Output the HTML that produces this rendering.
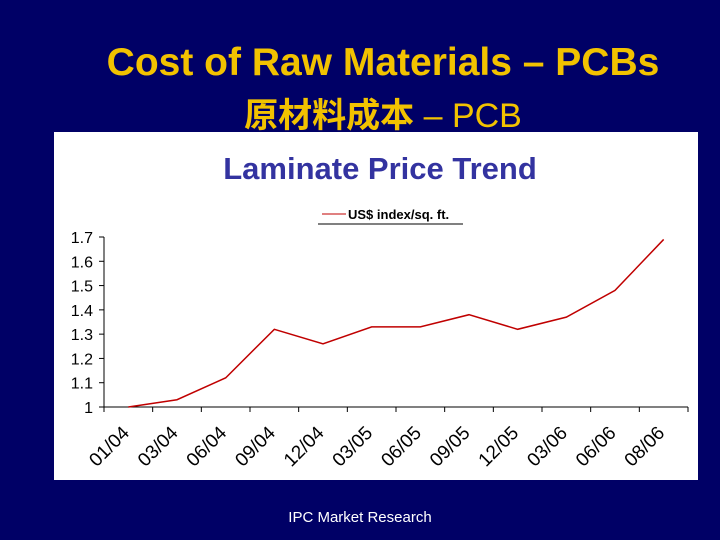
<!DOCTYPE html>
<html><head><meta charset="utf-8"><style>
body{margin:0;width:720px;height:540px;background:#000066;overflow:hidden;font-family:"Liberation Sans","Noto Sans CJK SC",sans-serif;position:relative}
.t{position:absolute;left:0;width:720px;text-align:center;color:#F2C200}
</style></head><body>
<div class="t" style="top:41px;font-size:39px;left:23px;font-weight:bold">Cost of Raw Materials – PCBs</div>
<div class="t" style="top:88px;font-size:34px;left:23px"><b>原材料成本</b> – PCB</div>
<svg width="720" height="540" style="position:absolute;left:0;top:0" id="c">
<rect x="54" y="132" width="644" height="348" fill="#fff"/>
<text x="380" y="179" text-anchor="middle" font-size="31" font-weight="bold" fill="#3333a0" font-family="Liberation Sans,sans-serif">Laminate Price Trend</text>
<g>
<line x1="322" y1="214" x2="346" y2="214" stroke="#c00000" stroke-width="1"/>
<text x="348" y="219" font-size="13" font-weight="bold" font-family="Liberation Sans,sans-serif">US$ index/sq. ft.</text>
<line x1="318" y1="224" x2="463" y2="224" stroke="#000" stroke-width="1"/>
</g>
<g id="ax"></g>
</svg>
<div style="position:absolute;top:509px;left:0;width:720px;text-align:center;color:#fff;font-size:15px">IPC Market Research</div>
<script>
const categories=["01/04","03/04","06/04","09/04","12/04","03/05","06/05","09/05","12/05","03/06","06/06","08/06"];
const values=[1.00,1.03,1.12,1.32,1.26,1.33,1.33,1.38,1.32,1.37,1.48,1.69];
const yTicks=[1,1.1,1.2,1.3,1.4,1.5,1.6,1.7];
const yTickLabels=["1","1.1","1.2","1.3","1.4","1.5","1.6","1.7"];
const NS="http://www.w3.org/2000/svg",g=document.getElementById('ax');
const x0=104,x1=688,y0=407,yTop=237;
const bw=(x1-x0)/categories.length;
const X=i=>x0+bw*(i+0.5), Y=v=>y0-(v-1)/0.7*(y0-yTop);
function mk(t,a){const e=document.createElementNS(NS,t);for(const k in a)e.setAttribute(k,a[k]);g.appendChild(e);return e;}
let e=mk('line',{x1:x0,y1:yTop,x2:x0,y2:y0,stroke:'#000'});


e=mk('line',{x1:x0,y1:y0,x2:x1,y2:y0,stroke:'#000'});


yTicks.forEach((v,i)=>{mk('line',{x1:x0-5,y1:Y(v),x2:x0,y2:Y(v),stroke:'#000'});
const t=mk('text',{x:93,y:Y(v)+6,'text-anchor':'end','font-size':16,'font-family':'Liberation Sans,sans-serif'});t.textContent=yTickLabels[i];

});
for(let i=0;i<=categories.length;i++)mk('line',{x1:x0+bw*i,y1:y0,x2:x0+bw*i,y2:y0+5,stroke:'#000'});
categories.forEach((c,i)=>{const cx=X(i)+2,cy=y0+27;
const t=mk('text',{x:cx,y:cy,'text-anchor':'end','font-size':19,'font-family':'Liberation Sans,sans-serif',transform:`rotate(-45 ${cx} ${cy})`});t.textContent=c;

});
const p=mk('polyline',{points:values.map((v,i)=>X(i)+','+Y(v)).join(' '),fill:'none',stroke:'#c00000','stroke-width':1.5});


</script>
</body></html>
